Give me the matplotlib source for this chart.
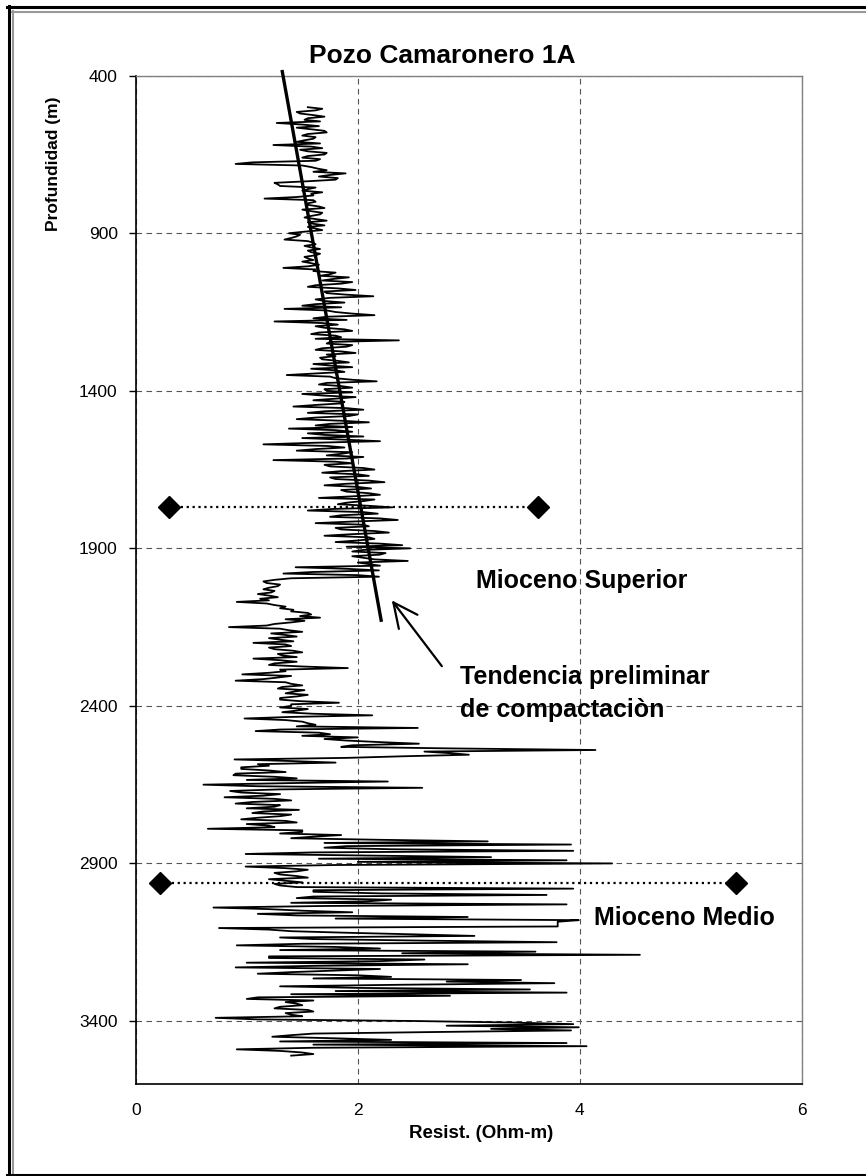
import numpy as np
import matplotlib.pyplot as plt
from matplotlib.lines import Line2D

plt.rcParams['font.family'] = ['Liberation Sans', 'DejaVu Sans']

# resistivity log
# resist_a: values at 500, 510, 520 ... m ; resist_b: values at 505, 515, 525 ... m
resist_a = [
    1.55, 1.62, 1.48, 1.70, 1.52, 1.27, 1.65, 1.58, 1.72, 1.50,  # 500
    1.60, 1.45, 1.24, 1.68, 1.55, 1.70, 1.50, 1.62, 0.90, 1.58,  # 600
    1.72, 1.89, 1.65, 1.80, 1.25, 1.30, 1.55, 1.68, 1.60, 1.16,  # 700
    1.62, 1.55, 1.70, 1.58, 1.66, 1.52, 1.72, 1.60, 1.55, 1.68,  # 800
    1.38, 1.45, 1.34, 1.60, 1.52, 1.66, 1.58, 1.62, 1.55, 1.50,  # 900
    1.65, 1.33, 1.60, 1.75, 1.92, 1.68, 1.85, 1.55, 1.98, 1.72,  # 1000
    2.14, 1.62, 1.88, 1.50, 1.34, 1.80, 2.15, 1.60, 1.25, 1.82,  # 1100
    1.70, 1.95, 1.58, 1.85, 2.37, 1.72, 1.90, 1.62, 1.98, 1.80,  # 1200
    1.68, 1.92, 1.75, 1.58, 1.88, 1.36, 1.80, 2.17, 1.65, 1.95,  # 1300
    1.72, 1.50, 1.98, 1.60, 1.85, 1.42, 2.05, 1.55, 1.92, 1.45,  # 1400
    2.10, 1.62, 1.38, 1.95, 1.70, 1.50, 2.20, 1.15, 1.88, 1.45,  # 1500
    1.85, 2.05, 1.24, 1.95, 1.75, 2.15, 1.68, 2.10, 1.80, 2.24,  # 1600
    1.70, 2.12, 1.90, 2.20, 1.65, 2.05, 1.82, 2.31, 1.55, 2.18,  # 1700
    1.75, 2.36, 1.62, 2.10, 1.85, 2.28, 1.70, 2.15, 1.80, 2.40,  # 1800
    2.47, 1.95, 2.20, 2.05, 2.45, 2.10, 1.44, 2.19, 1.33, 2.19,  # 1900
    1.25, 1.18, 1.28, 1.15, 1.22, 1.20, 1.12, 0.91, 1.25, 1.30,  # 2000
    1.40, 1.58, 1.66, 1.52, 1.25, 0.84, 1.38, 1.22, 1.45, 1.30,  # 2100
    1.06, 1.40, 1.25, 1.50, 1.32, 1.06, 1.45, 1.20, 1.91, 1.35,  # 2200
    0.96, 1.28, 0.90, 1.40, 1.32, 1.52, 1.35, 1.45, 1.30, 1.83,  # 2300
    1.40, 1.55, 1.32, 2.13, 0.98, 1.50, 1.62, 2.54, 1.08, 1.75,  # 2400
    2.00, 1.90, 2.55, 1.85, 4.14, 2.83, 2.40, 0.89, 1.80, 1.20,  # 2500
    0.95, 1.35, 0.88, 1.45, 2.27, 0.61, 2.58, 0.85, 1.30, 0.80,  # 2600
    1.40, 0.90, 1.25, 1.47, 1.05, 1.30, 0.95, 1.45, 1.20, 0.65,  # 2700
    1.50, 1.85, 1.40, 3.17, 3.92, 1.70, 3.94, 0.99, 3.20, 3.88,  # 2800
    4.29, 0.99, 1.55, 1.25, 1.45, 1.20, 1.50, 1.30, 3.94, 1.60,  # 2900
    3.70, 1.45, 2.10, 3.88, 0.70, 1.50, 1.10, 2.99, 3.99, 3.80,  # 3000
    3.80, 1.20, 1.90, 3.05, 1.60, 3.79, 0.91, 2.20, 3.60, 4.54,  # 3100
    1.20, 2.20, 2.99, 0.90, 1.80, 1.10, 2.30, 3.47, 3.77, 1.30,  # 3200
    3.55, 3.88, 2.83, 1.00, 1.35, 1.50, 1.25, 1.60, 1.40, 0.72,  # 3300
    2.50, 3.94, 3.99, 3.92, 1.60, 1.23, 2.30, 3.88, 4.06, 0.91,  # 3400
    1.50, 1.40,                                                  # 3500
]
resist_b = [
    1.68, 1.45, 1.60, 1.55, 1.66, 1.50, 1.45, 1.70, 1.55, 1.62,  # 505
    1.52, 1.66, 1.58, 1.48, 1.72, 1.55, 1.66, 1.05, 1.50, 1.64,  # 605
    1.60, 1.75, 1.82, 1.55, 1.28, 1.62, 1.50, 1.58, 1.45, 1.60,  # 705
    1.55, 1.65, 1.50, 1.68, 1.58, 1.62, 1.55, 1.70, 1.62, 1.52,  # 805
    1.48, 1.40, 1.55, 1.62, 1.58, 1.55, 1.66, 1.52, 1.60, 1.58,  # 905
    1.55, 1.62, 1.80, 1.66, 1.78, 1.95, 1.62, 1.82, 1.70, 1.90,  # 1005
    1.75, 1.70, 1.62, 1.85, 1.72, 1.95, 1.72, 1.90, 1.68, 1.62,  # 1105
    1.88, 1.65, 1.80, 1.62, 1.75, 1.95, 1.68, 1.85, 1.72, 1.66,  # 1205
    1.82, 1.60, 1.95, 1.80, 1.62, 1.75, 1.95, 1.72, 1.85, 1.70,  # 1305
    1.95, 1.68, 1.80, 1.88, 1.62, 1.90, 1.70, 2.00, 1.62, 1.85,  # 1405
    1.75, 1.95, 1.80, 1.55, 2.05, 1.88, 1.60, 1.72, 1.62, 1.95,  # 1505
    1.72, 1.90, 1.80, 1.70, 2.05, 1.85, 2.00, 1.75, 2.10, 1.90,  # 1605
    2.00, 1.85, 2.10, 1.95, 2.15, 1.90, 2.10, 1.78, 2.05, 1.85,  # 1705
    2.20, 1.95, 2.05, 1.80, 2.15, 1.95, 2.10, 2.00, 2.20, 1.90,  # 1805
    2.05, 2.25, 1.95, 2.15, 2.00, 2.20, 1.90, 1.60, 2.00, 1.40,  # 1905
    1.15, 1.30, 1.20, 1.25, 1.10, 1.28, 1.20, 1.18, 1.35, 1.42,  # 2005
    1.55, 1.48, 1.35, 1.40, 1.18, 1.30, 1.50, 1.35, 1.20, 1.42,  # 2105
    1.35, 1.20, 1.42, 1.28, 1.45, 1.30, 1.25, 1.50, 1.30, 1.20,  # 2205
    1.40, 1.15, 1.35, 1.50, 1.28, 1.42, 1.55, 1.30, 1.48, 1.40,  # 2305
    1.30, 1.45, 1.60, 1.40, 1.35, 1.55, 1.45, 1.30, 1.65, 1.50,  # 2405
    1.70, 2.20, 1.95, 2.85, 2.60, 3.00, 1.90, 1.40, 1.10, 0.95,  # 2505
    1.20, 0.90, 1.25, 1.00, 1.40, 1.10, 1.30, 0.95, 1.15, 1.25,  # 2605
    1.05, 1.30, 1.00, 1.15, 1.40, 1.10, 1.35, 1.00, 1.25, 1.50,  # 2705
    1.30, 1.60, 2.20, 1.70, 1.90, 2.30, 1.60, 2.10, 1.65, 2.00,  # 2805
    1.80, 1.35, 1.45, 1.30, 1.55, 1.35, 1.25, 1.45, 1.60, 2.20,  # 2905
    1.60, 2.30, 1.40, 1.70, 1.20, 1.95, 1.45, 1.80, 3.80, 3.80,  # 3005
    0.75, 1.40, 2.50, 1.30, 2.60, 1.50, 1.80, 1.30, 2.40, 1.20,  # 3105
    2.60, 1.00, 1.60, 2.20, 1.40, 2.00, 1.60, 2.80, 2.40, 2.00,  # 3205
    1.80, 1.40, 1.10, 1.60, 1.45, 1.30, 1.55, 1.35, 1.50, 1.10,  # 3305
    3.40, 2.80, 3.20, 2.70, 1.40, 1.80, 1.30, 1.60, 1.60, 1.30,  # 3405
    1.60,                                                        # 3505
]
depth_a = 500 + 10 * np.arange(len(resist_a))
depth_b = 505 + 10 * np.arange(len(resist_b))
depth = np.concatenate([depth_a, depth_b])
resist = np.concatenate([resist_a, resist_b])
order = np.argsort(depth)
depth, resist = depth[order], resist[order]

# compaction trend line (resistivity, depth)
trend_r = [1.32, 2.21]
trend_d = [387, 2128]

# formation tops, diamond markers at both ends
top_sup_r = [0.30, 3.62]
top_sup_d = 1768
top_med_r = [0.22, 5.41]
top_med_d = 2961

yticks = [400, 900, 1400, 1900, 2400, 2900, 3400]
xticks = [0, 2, 4, 6]

W, H = 866, 1176
fig = plt.figure(figsize=(W / 100, H / 100), dpi=100)
ax = fig.add_axes([135.7 / W, 1 - 1084 / H, (802 - 135.7) / W, (1084 - 75.7) / H])

ax.plot(resist, depth, color='black', lw=1.3, zorder=3)
ax.plot(trend_r, trend_d, color='black', lw=2.4, clip_on=False, zorder=4)
for r, d in [(top_sup_r, top_sup_d), (top_med_r, top_med_d)]:
    ax.plot(r, [d, d], linestyle=':', color='black', lw=1.6,
            marker='D', ms=11, zorder=5)

ax.annotate('', xy=(2.306, 2065), xytext=(2.757, 2274),
            arrowprops=dict(arrowstyle='->,head_length=0.88,head_width=0.42',
                            lw=1.6, color='black', shrinkA=0, shrinkB=0,
                            mutation_scale=20))

ax.text(3.066, 2027, 'Mioceno Superior', fontsize=18, fontweight='bold', va='baseline')
ax.text(2.92, 2331, 'Tendencia preliminar', fontsize=18, fontweight='bold', va='baseline')
ax.text(2.92, 2435, 'de compactaciòn', fontsize=18, fontweight='bold', va='baseline')
ax.text(4.13, 3096, 'Mioceno Medio', fontsize=18, fontweight='bold', va='baseline')

ax.set_xlim(0, 6)
ax.set_ylim(3600, 400)
ax.set_xticks(xticks)
ax.set_yticks(yticks)
ax.grid(True, linestyle=(0, (5, 4)), color='#555555', lw=0.8, zorder=1)
ax.tick_params(axis='y', direction='out', length=5, width=1, labelsize=12.5, pad=8)
ax.tick_params(axis='x', length=0, labelsize=12.5, pad=14)
for s in ['left', 'bottom']:
    ax.spines[s].set_color('black')
    ax.spines[s].set_linewidth(1.2)
for s in ['top', 'right']:
    ax.spines[s].set_color('#808080')
    ax.spines[s].set_linewidth(1.0)

fig.text(442 / W, 1 - 63.3 / H, 'Pozo Camaronero 1A', fontsize=19,
         fontweight='bold', ha='center', va='baseline')
fig.text(53.5 / W, 1 - 164 / H, 'Profundidad (m)', fontsize=12.5,
         fontweight='bold', rotation=90, ha='center', va='center')
fig.text(480.7 / W, 1 - 1133.5 / H, 'Resist. (Ohm-m)', fontsize=13.5,
         fontweight='bold', ha='center', va='center')

# outer frame
def hline(y, x0, x1, **kw):
    fig.add_artist(Line2D([x0 / W, x1 / W], [1 - y / H, 1 - y / H], **kw))

def vline(x, y0, y1, **kw):
    fig.add_artist(Line2D([x / W, x / W], [1 - y0 / H, 1 - y1 / H], **kw))

vline(8.7, 6, 1176, color='black', lw=2.2)
vline(12.8, 11, 1176, color='#999999', lw=1.5)
hline(7, 7, 866, color='black', lw=2.2)
hline(11.5, 12, 866, color='#999999', lw=1.5)
hline(1175, 7, 866, color='black', lw=2.2)

fig.savefig('out.png', dpi=100)
